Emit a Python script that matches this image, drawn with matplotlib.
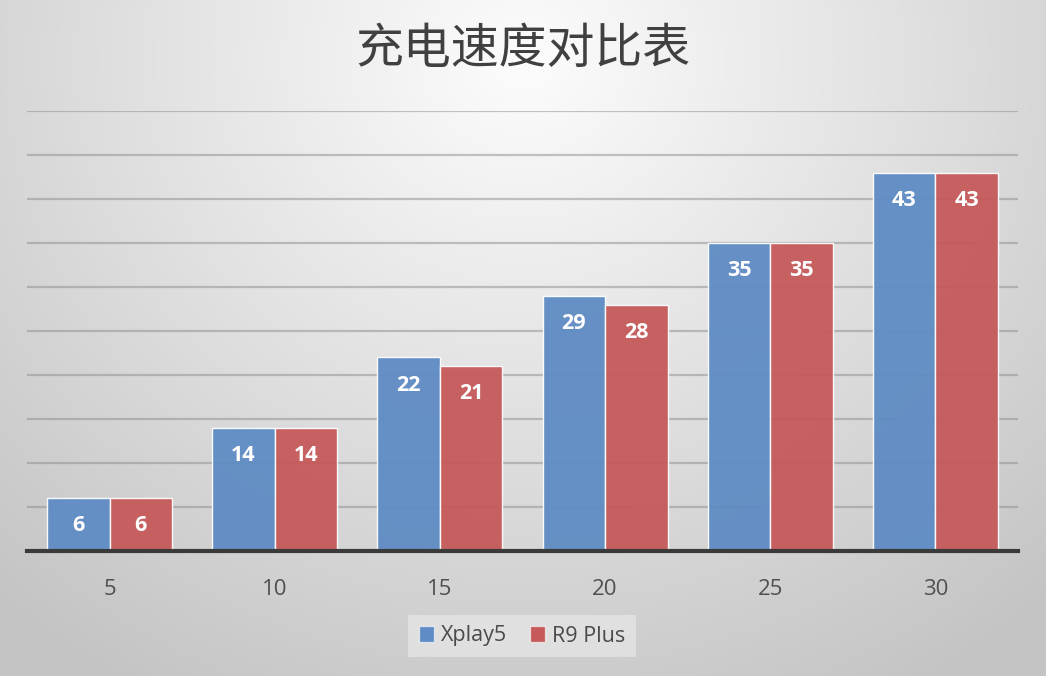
import numpy as np
import matplotlib
matplotlib.use('Agg')
import matplotlib.pyplot as plt
from matplotlib.patches import Patch

plt.rcParams['font.family'] = ['Open Sans', 'Noto Sans CJK SC', 'DejaVu Sans']

# data
categories = ['5', '10', '15', '20', '25', '30']
series_names = ['Xplay5', 'R9 Plus']
xplay5 = [6, 14, 22, 29, 35, 43]
r9plus = [6, 14, 21, 28, 35, 43]
title = '充电速度对比表'

blue = '#5f8cc4'
red = '#c65a5a'

fig = plt.figure(figsize=(10.46, 6.76), dpi=100)

# radial grey background
bg = fig.add_axes([0, 0, 1, 1], zorder=-10)
yy, xx = np.mgrid[0:676, 0:1046]
r = np.sqrt(((xx - 523) / 780.0) ** 2 + ((yy - 60) / 720.0) ** 2)
r = np.clip(r, 0, 1)
shade = 0.99 - 0.22 * r
img = np.dstack([shade, shade, shade])
bg.imshow(img, aspect='auto', interpolation='bilinear')
bg.axis('off')

ax = fig.add_axes([27 / 1046, 1 - 551 / 676, 991 / 1046, 440 / 676])
ax.patch.set_alpha(0)

x = np.arange(len(categories))
w = 0.378
b1 = ax.bar(x - w / 2, xplay5, w, color=blue, alpha=0.95, edgecolor=(1, 1, 1, 0.6), linewidth=1, zorder=3)
b2 = ax.bar(x + w / 2, r9plus, w, color=red, alpha=0.95, edgecolor=(1, 1, 1, 0.6), linewidth=1, zorder=3)

for bars, vals in ((b1, xplay5), (b2, r9plus)):
    for rect, v in zip(bars, vals):
        ax.annotate(str(v), (rect.get_x() + rect.get_width() / 2, v),
                    xytext=(0, -20), textcoords='offset points',
                    ha='center', va='center', color='white',
                    fontsize=15.5, fontweight='bold', zorder=5)

ax.set_xlim(-0.5, len(categories) - 0.5)
ax.set_ylim(0, 50)
ax.set_yticks(np.arange(5, 51, 5))
ax.yaxis.grid(True, color='#8c8c8c', alpha=0.5, linewidth=1.6, zorder=1)
ax.set_axisbelow(True)
ax.tick_params(axis='y', left=False, labelleft=False)
ax.set_xticks(x)
ax.set_xticklabels(categories, fontsize=16, color='#505050')
ax.tick_params(axis='x', length=0, pad=20)
for s in ['top', 'right', 'left']:
    ax.spines[s].set_visible(False)
ax.spines['bottom'].set_color('#3a3a3a')
ax.spines['bottom'].set_linewidth(3)
ax.spines['bottom'].set_zorder(6)

fig.text(523 / 1046, 1 - 49 / 676, title, ha='center', va='center',
         fontsize=34.5, fontweight='light', color='#404040',
         family=['Noto Sans CJK SC', 'DejaVu Sans'])

handles = [Patch(facecolor=blue, edgecolor=(1, 1, 1, 0.6)), Patch(facecolor=red, edgecolor=(1, 1, 1, 0.6))]
leg = fig.legend(handles, series_names, loc='center', bbox_to_anchor=(522 / 1046, 1 - 636 / 676),
                 ncol=2, frameon=True, fontsize=15.5, handlelength=0.7, handleheight=0.7,
                 handletextpad=0.3, columnspacing=1.1, borderpad=0.5, fancybox=False)
leg.get_frame().set_facecolor('#e2e2e2')
leg.get_frame().set_edgecolor('none')
leg.get_frame().set_alpha(0.9)
for t in leg.get_texts():
    t.set_color('#4a4a4a')

fig.savefig('out.png', dpi=100)
